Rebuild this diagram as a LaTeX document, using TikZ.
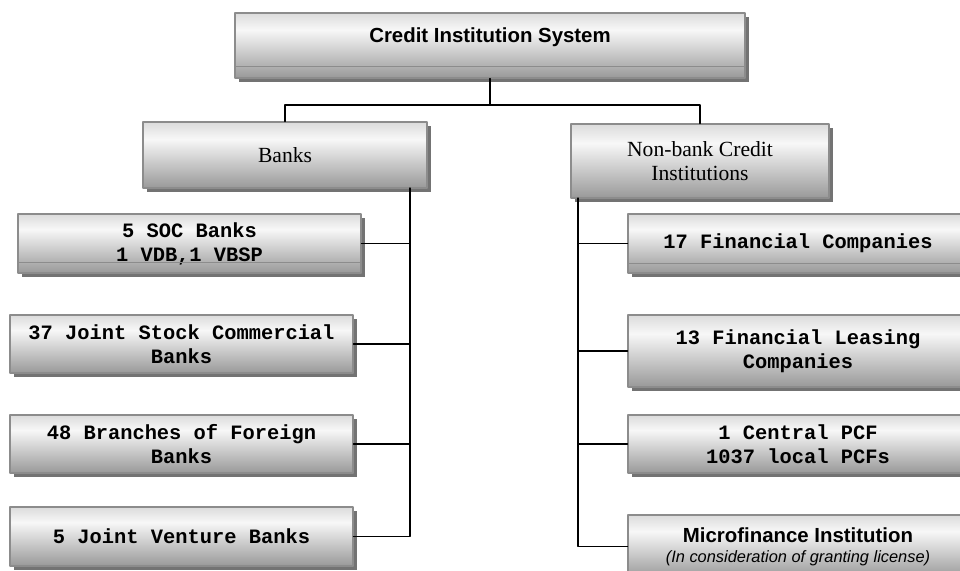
\documentclass[tikz,border=0pt]{standalone}
\usepackage{fontspec}
\setmainfont{Liberation Serif}
\setsansfont{Liberation Sans}
\setmonofont{Liberation Mono}
\usepackage{tikz}
\usetikzlibrary{shadows}
\definecolor{shadetop}{gray}{0.86}
\definecolor{shadehi}{gray}{0.97}
\definecolor{shadelow}{gray}{0.6}
\pgfdeclareverticalshading{boxshade}{100bp}{color(0bp)=(shadelow); color(25bp)=(shadelow); color(62bp)=(shadehi); color(75bp)=(shadetop); color(100bp)=(shadetop)}

\begin{document}
\begin{tikzpicture}[line cap=round,line join=round,x=0.75pt,y=-0.75pt,
  orgbox/.style={rectangle, draw=black!45, line width=0.8pt, shading=boxshade,
    drop shadow={shadow xshift=3pt, shadow yshift=-3pt, fill=black!55, opacity=1},
    inner sep=0pt, align=center, font=\fontsize{16.2}{18.5}\selectfont},
  monobox/.style={orgbox, font=\fontsize{15.3}{18}\selectfont\ttfamily\bfseries},
  leftbox/.style={monobox, minimum width=257.25pt},
  rightbox/.style={monobox, minimum width=255pt},
  bandline/.style={draw=black!45, line width=0.6pt},
  link/.style={line width=1.pt}]
\useasboundingbox (0,0) rectangle (960,571);
\clip (0,0) rectangle (960,571);
\node [orgbox, minimum width=382.5pt, minimum height=48.75pt, text height=11pt, text depth=15.4pt,
  font=\fontsize{15.3}{18}\selectfont\sffamily\bfseries] (sys) at (490,45.5) {Credit Institution System};
\node [orgbox, minimum width=213pt, minimum height=49.5pt] (banks) at (285,155) {Banks};
\node [orgbox, minimum width=193.5pt, minimum height=55.5pt] (nonbank) at (700,161) {Non-bank Credit\\Institutions};
\node [leftbox, minimum height=44.25pt] (soc) at (189.5,243.5) {5 SOC Banks\\1 VDB,1 VBSP};
\node [leftbox, minimum height=43.5pt] (jsc) at (181.5,344) {37 Joint Stock Commercial\\Banks};
\node [leftbox, minimum height=43.5pt] (branch) at (181.5,444) {48 Branches of Foreign\\Banks};
\node [leftbox, minimum height=44.25pt] (jv) at (181.5,536.5) {5 Joint Venture Banks};
\node [rightbox, minimum height=44.25pt] (fin) at (798,243.5) {17 Financial Companies};
\node [rightbox, minimum height=54pt] (leasing) at (798,351) {13 Financial Leasing\\Companies};
\node [rightbox, minimum height=43.5pt] (pcf) at (798,444) {1 Central PCF\\1037 local PCFs};
\node [rightbox, minimum height=47.25pt, font=\fontsize{15.3}{18}\selectfont\sffamily] (micro) at (798,546.5)
  {\textbf{Microfinance Institution}\\[-3pt]{\fontsize{12.3}{14}\selectfont\itshape (In consideration of granting license)}};
\draw [bandline] ([yshift=9.4pt]sys.south west) -- ([yshift=9.4pt]sys.south east);
\draw [bandline] ([yshift=8.25pt]soc.south west) -- ([yshift=8.25pt]soc.south east);
\draw [bandline] ([yshift=7.5pt]fin.south west) -- ([yshift=7.5pt]fin.south east);
\coordinate (split) at (490,105);
\coordinate (bktop) at (410,188);
\coordinate (nbtop) at (578,198);
\draw [link] (sys.south) -- (split);
\draw [link] (banks.north) |- (split) -| (nonbank.north);
\draw [link] (bktop) |- (jv.east);
\foreach \n in {soc,jsc,branch}
  \draw [link] (\n.east) -- (\n.east -| bktop);
\draw [link] (nbtop) |- (micro.west);
\foreach \n in {fin,leasing,pcf}
  \draw [link] (\n.west -| nbtop) -- (\n.west);
\end{tikzpicture}
\end{document}
